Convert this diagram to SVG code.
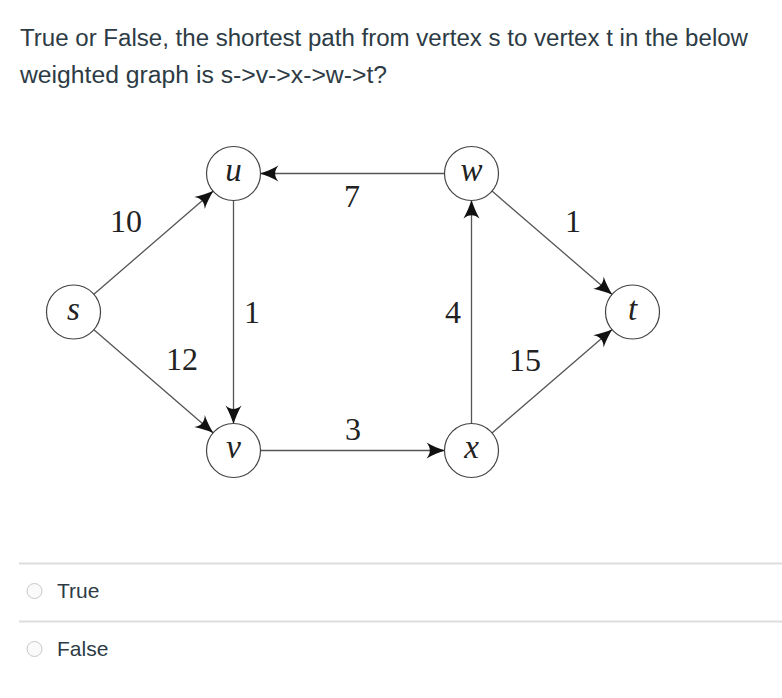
<svg xmlns="http://www.w3.org/2000/svg" width="782" height="698" viewBox="0 0 782 698">
<style>
.q{font-family:"Liberation Sans",Arial,sans-serif;font-size:23px;fill:#2d3b45}
.opt{font-family:"Liberation Sans",Arial,sans-serif;font-size:21px;fill:#2d3b45}
.node circle{fill:#fff;stroke:#444;stroke-width:1.2}
.node text{font-family:"Liberation Serif","Times New Roman",serif;font-style:italic;font-size:33px;fill:#222;text-anchor:middle}
.edge{stroke:#555;stroke-width:1.3;fill:none;marker-end:url(#arr)}
.lbl{font-family:"Liberation Serif","Times New Roman",serif;font-size:32px;fill:#222;text-anchor:middle}
.rule{stroke:#ddd;stroke-width:2}
.radio{fill:#fafafa;stroke:#c8c8c8;stroke-width:1}
</style>
<defs>
<marker id="arr" markerUnits="userSpaceOnUse" markerWidth="20" markerHeight="18" viewBox="-19 -9 20 18" refX="0" refY="0" orient="auto">
<path d="M0.5,0 C-5,-1.8 -12,-4.5 -18,-8 C-13.5,-3 -13.5,3 -18,8 C-12,4.5 -5,1.8 0.5,0 Z" fill="#111"/>
</marker>
</defs>
<rect width="782" height="698" fill="#fff"/>
<text class="q" x="20" y="46" textLength="728" lengthAdjust="spacingAndGlyphs">True or False, the shortest path from vertex s to vertex t in the below</text>
<text class="q" x="20" y="83" textLength="367" lengthAdjust="spacingAndGlyphs">weighted graph is s-&gt;v-&gt;x-&gt;w-&gt;t?</text>
<g id="connectors">
<line class="edge" x1="93.9" y1="294.3" x2="213.1" y2="191.2"/>
<line class="edge" x1="93.9" y1="329.7" x2="213.1" y2="432.8"/>
<line class="edge" x1="233.5" y1="200.5" x2="233.5" y2="423.5"/>
<line class="edge" x1="444.5" y1="173.5" x2="260.5" y2="173.5"/>
<line class="edge" x1="471.5" y1="423.5" x2="471.5" y2="200.5"/>
<line class="edge" x1="260.5" y1="450.5" x2="444.5" y2="450.5"/>
<line class="edge" x1="492" y1="191.1" x2="612" y2="294.4"/>
<line class="edge" x1="492" y1="432.9" x2="612" y2="329.6"/>
<text class="lbl" x="126" y="232">10</text>
<text class="lbl" x="182" y="370">12</text>
<text class="lbl" x="252" y="323">1</text>
<text class="lbl" x="352" y="207">7</text>
<text class="lbl" x="453" y="323">4</text>
<text class="lbl" x="353" y="440">3</text>
<text class="lbl" x="573" y="232">1</text>
<text class="lbl" x="525" y="371">15</text>
</g>
<g id="node-s" class="node"><circle cx="73.5" cy="312" r="27"/><text x="73.5" y="319.5">s</text></g>
<g id="node-u" class="node"><circle cx="233.5" cy="173.5" r="27"/><text x="233.5" y="181">u</text></g>
<g id="node-w" class="node"><circle cx="471.5" cy="173.5" r="27"/><text x="471.5" y="181">w</text></g>
<g id="node-v" class="node"><circle cx="233.5" cy="450.5" r="27"/><text x="233.5" y="458">v</text></g>
<g id="node-x" class="node"><circle cx="471.5" cy="450.5" r="27"/><text x="471.5" y="458">x</text></g>
<g id="node-t" class="node"><circle cx="632.5" cy="312" r="27"/><text x="632.5" y="320">t</text></g>
<line class="rule" x1="19" y1="563.5" x2="782" y2="563.5"/>
<line class="rule" x1="19" y1="621.5" x2="782" y2="621.5"/>
<circle class="radio" cx="34.5" cy="591" r="7.5"/>
<text class="opt" x="57" y="598">True</text>
<circle class="radio" cx="34.5" cy="649" r="7.5"/>
<text class="opt" x="57" y="656">False</text>
</svg>
